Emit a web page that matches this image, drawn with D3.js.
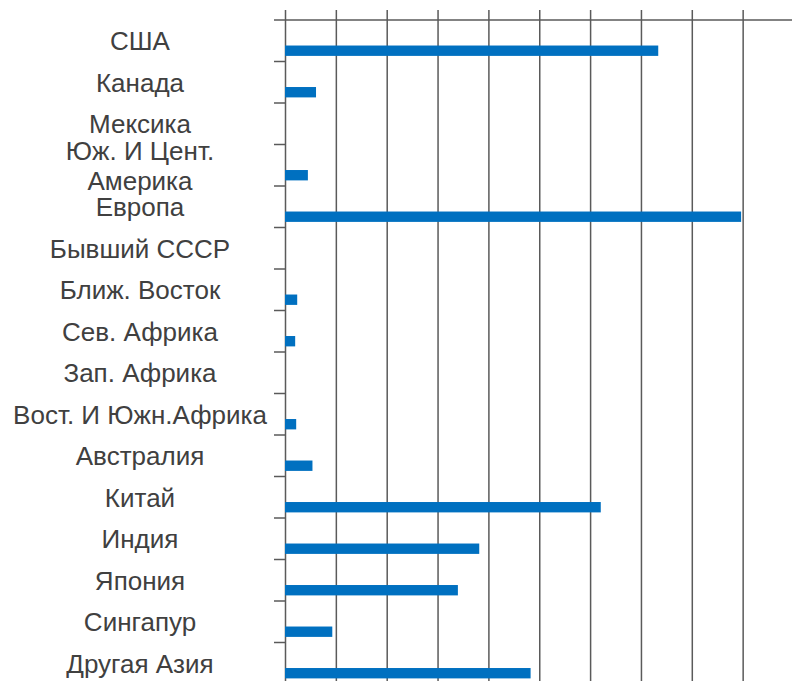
<!DOCTYPE html>
<html><head><meta charset="utf-8">
<script src="https://cdn.jsdelivr.net/npm/d3@7"></script>
<style>html,body{margin:0;padding:0;background:#fff;}svg{display:block;}</style>
</head><body>
<svg id="chart" width="792" height="681"></svg>
<script>
const categories = ["США","Канада","Мексика","Юж. И Цент.\nАмерика","Европа","Бывший СССР","Ближ. Восток","Сев. Африка","Зап. Африка","Вост. И Южн.Африка","Австралия","Китай","Индия","Япония","Сингапур","Другая Азия"];
const values = [7.34,0.61,0,0.45,8.97,0,0.24,0.2,0,0.22,0.54,6.21,3.82,3.4,0.93,4.83];
const xTicks = [0,1,2,3,4,5,6,7,8,9,10];

const svg = d3.select("#chart");
const x = d3.scaleLinear().domain([0,10]).range([285,793.5]);
const y = d3.scaleBand().domain(categories).range([20,684]).padding(0);
const bw = y.bandwidth();
const gridColor = "#5a5a5a";

// vertical gridlines with ticks above top axis
svg.append("g").attr("transform","translate(0,20)")
  .call(d3.axisTop(x).tickValues(xTicks).tickSize(10).tickFormat(""))
  .call(g=>g.select(".domain").remove())
  .call(g=>g.selectAll("line").attr("stroke",gridColor).attr("stroke-width",1.5).attr("y2",-10).attr("y1",700));

// top horizontal line
svg.append("line").attr("x1",274).attr("x2",792).attr("y1",20).attr("y2",20)
  .attr("stroke",gridColor).attr("stroke-width",1.5);

// left tick marks at band boundaries
svg.append("g").selectAll("line").data(categories)
  .join("line")
  .attr("x1",274).attr("x2",285)
  .attr("y1",d=>y(d)+bw).attr("y2",d=>y(d)+bw)
  .attr("stroke",gridColor).attr("stroke-width",1.5);

// bars
svg.append("g").selectAll("rect").data(categories).join("rect")
  .attr("x",x(0))
  .attr("y",d=>y(d)+bw*0.615)
  .attr("width",(d,i)=>x(values[i])-x(0))
  .attr("height",bw*0.25)
  .attr("fill","#0070C0");

// labels
const lab = svg.append("g").attr("font-family","'Liberation Sans', Arial, sans-serif")
  .attr("font-size",26).attr("fill","#404040").attr("text-anchor","middle");
categories.forEach(c=>{
  const lines = c.split("\n");
  const cy = y(c)+bw/2;
  const lh = 30;
  lines.forEach((t,j)=>{
    lab.append("text").attr("x",140)
      .attr("y",cy+9.5+(j-(lines.length-1)/2)*lh)
      .text(t);
  });
});
</script>
</body></html>
